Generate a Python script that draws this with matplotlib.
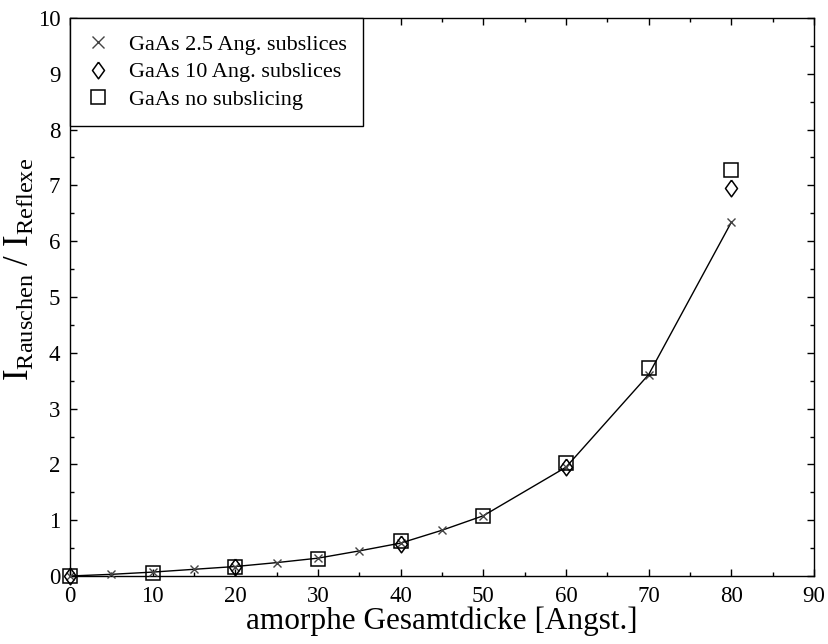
import matplotlib.pyplot as plt
import numpy as np
from matplotlib.ticker import MultipleLocator

plt.rcParams['font.family'] = ['Liberation Serif', 'DejaVu Serif']
plt.rcParams['mathtext.fontset'] = 'custom'
plt.rcParams['mathtext.rm'] = 'Liberation Serif'
plt.rcParams['mathtext.it'] = 'Liberation Serif:italic'

# 2.5 Ang. subslices
x_25 = [0, 5, 10, 15, 20, 25, 30, 35, 40, 45, 50, 60, 70, 80]
y_25 = [0.0, 0.03, 0.07, 0.12, 0.17, 0.24, 0.32, 0.45, 0.59, 0.82, 1.08, 1.95, 3.61, 6.34]

# 10 Ang. subslices
x_10 = [0, 20, 40, 60, 80]
y_10 = [0.0, 0.17, 0.58, 1.95, 6.96]

# no subslicing
x_no = [0, 10, 20, 30, 40, 50, 60, 70, 80]
y_no = [0.0, 0.06, 0.16, 0.31, 0.62, 1.08, 2.03, 3.73, 7.28]

labels = ['GaAs 2.5 Ang. subslices', 'GaAs 10 Ang. subslices', 'GaAs no subslicing']

diamond = [(0, 1), (0.72, 0), (0, -1), (-0.72, 0), (0, 1)]

fig = plt.figure(figsize=(8.29, 6.44), dpi=100)
ax = fig.add_axes([70 / 829, 1 - 576 / 644, 744 / 829, 558 / 644])

ax.plot(x_25, y_25, color='black', lw=1.0, zorder=2, clip_on=False)
ax.plot(x_25, y_25, ls='none', marker='x', ms=6, mew=1.0, color='#444444',
        label=labels[0], zorder=3, clip_on=False)
ax.plot(x_10, y_10, ls='none', marker=diamond, ms=12, mew=1.1, mfc='none',
        mec='black', label=labels[1], zorder=3, clip_on=False)
ax.plot(x_no, y_no, ls='none', marker='s', ms=10, mew=1.1, mfc='none',
        mec='black', label=labels[2], zorder=3, clip_on=False)

ax.set_xlim(0, 90)
ax.set_ylim(0, 10)
ax.xaxis.set_major_locator(MultipleLocator(10))
ax.xaxis.set_minor_locator(MultipleLocator(5))
ax.yaxis.set_major_locator(MultipleLocator(1))
ax.yaxis.set_minor_locator(MultipleLocator(0.5))
ax.tick_params(which='both', direction='in', top=True, right=True, labelsize=16.5)
ax.tick_params(which='major', length=5, width=1)
ax.tick_params(which='minor', length=3, width=1)
ax.tick_params(axis='x', pad=7)
ax.tick_params(axis='y', pad=7)
for s in ax.spines.values():
    s.set_linewidth(1.0)

ax.set_xlabel('amorphe Gesamtdicke [Angst.]', fontsize=22.5, labelpad=0)
ax.set_ylabel(r'$\mathrm{I_{Rauschen}}$ / $\mathrm{I_{Reflexe}}$', fontsize=25)
ax.yaxis.set_label_coords(-0.044, 0.55)

leg = ax.legend(loc='upper left', bbox_to_anchor=(0, 1), borderaxespad=0,
                fancybox=False, edgecolor='black', fontsize=16, framealpha=1,
                handlelength=1.0, handletextpad=0.9, labelspacing=0.3,
                borderpad=0.75)
leg.get_frame().set_linewidth(1.0)
leg.legend_handles[0].set_markersize(9)

fig.savefig('out.png', dpi=100)
